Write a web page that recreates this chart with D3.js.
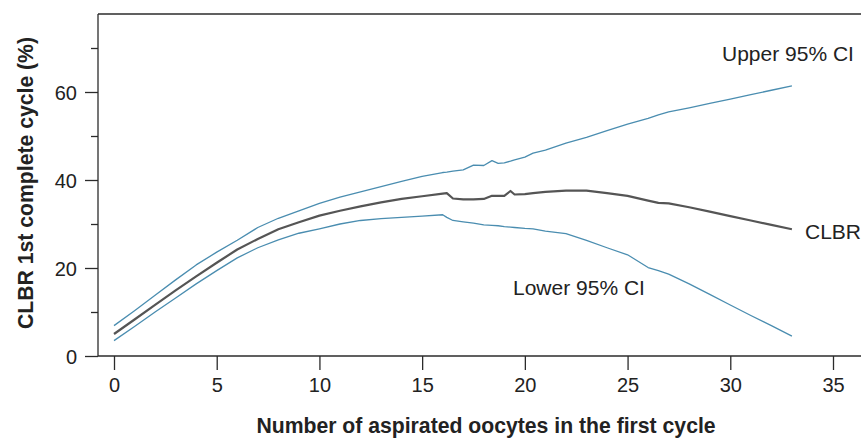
<!DOCTYPE html>
<html>
<head>
<meta charset="utf-8">
<script src="https://cdn.jsdelivr.net/npm/d3@7"></script>
<style>
  html, body { margin: 0; padding: 0; background: #fff; }
  svg { display: block; font-family: Arial, "Liberation Sans", sans-serif; }
</style>
</head>
<body>
<svg id="chart" width="861" height="438"></svg>
<script>
// ---- Data ----
const oocytes = [0, 1, 2, 3, 4, 5, 6, 7, 8, 9, 10, 11, 12, 13, 14, 15, 16, 16.2, 16.5, 17, 17.5, 18, 18.4, 18.7, 19, 19.3, 19.5, 20, 20.4, 21, 22, 23, 24, 25, 26, 26.5, 27, 28, 29, 30, 31, 32, 33];
const clbr = [5.0, 8.3, 11.6, 14.9, 18.1, 21.2, 24.2, 26.6, 28.8, 30.4, 31.9, 33.0, 34.0, 34.9, 35.7, 36.3, 36.9, 37.0, 35.8, 35.6, 35.6, 35.7, 36.4, 36.4, 36.4, 37.5, 36.7, 36.8, 37.0, 37.3, 37.6, 37.6, 37.0, 36.4, 35.3, 34.8, 34.7, 33.8, 32.8, 31.8, 30.8, 29.8, 28.8];
const upperCI = [6.9, 10.3, 13.8, 17.3, 20.7, 23.6, 26.3, 29.2, 31.3, 33.0, 34.7, 36.1, 37.3, 38.5, 39.7, 40.8, 41.7, 41.8, 42.0, 42.3, 43.4, 43.3, 44.4, 43.8, 43.9, 44.3, 44.6, 45.2, 46.1, 46.8, 48.4, 49.7, 51.2, 52.7, 54.0, 54.8, 55.5, 56.4, 57.4, 58.4, 59.4, 60.4, 61.4];
const lowerCI = [3.5, 6.7, 10.0, 13.2, 16.4, 19.4, 22.3, 24.6, 26.4, 27.9, 28.9, 30.0, 30.8, 31.2, 31.5, 31.8, 32.1, 31.5, 30.8, 30.5, 30.2, 29.8, 29.7, 29.6, 29.4, 29.3, 29.2, 29.0, 28.9, 28.4, 27.8, 26.3, 24.6, 23.0, 20.1, 19.4, 18.6, 16.4, 14.0, 11.6, 9.2, 6.9, 4.5];
const xTicks = [0, 5, 10, 15, 20, 25, 30, 35];
const yTicks = [0, 20, 40, 60];
const yMinorTicks = [10, 30, 50, 70];
const xTitle = "Number of aspirated oocytes in the first cycle";
const yTitle = "CLBR 1st complete cycle (%)";
const seriesLabels = ["Upper 95% CI", "CLBR", "Lower 95% CI"];

// ---- Layout ----
const W = 861, H = 438;
const frameLeft = 98, frameTop = 14, frameBottom = 356;
const svg = d3.select("#chart");
const x = d3.scaleLinear().domain([0, 35]).range([114, 833]);
const y = d3.scaleLinear().domain([0, 60]).range([356, 92]);

const axisColor = "#2b2b2b";
const textColor = "#222";

// Frame: left, top, bottom lines
svg.append("line").attr("x1", frameLeft).attr("x2", frameLeft).attr("y1", frameTop).attr("y2", frameBottom)
  .attr("stroke", axisColor).attr("stroke-width", 1.3);
svg.append("line").attr("x1", frameLeft).attr("x2", W).attr("y1", frameTop).attr("y2", frameTop)
  .attr("stroke", axisColor).attr("stroke-width", 1.3);
svg.append("line").attr("x1", frameLeft).attr("x2", W).attr("y1", frameBottom).attr("y2", frameBottom)
  .attr("stroke", axisColor).attr("stroke-width", 1.3);

// Y axis (major)
const yAxis = svg.append("g").attr("transform", `translate(${frameLeft},0)`)
  .call(d3.axisLeft(y).tickValues(yTicks).tickSize(13).tickPadding(8).tickSizeOuter(0));
yAxis.select(".domain").remove();
yAxis.selectAll(".tick line").attr("stroke", axisColor).attr("stroke-width", 1.3);
yAxis.selectAll(".tick text").attr("fill", textColor).style("font-size", "20px")
  .style("font-family", "Arial, 'Liberation Sans', sans-serif").attr("dy", "0.36em");

// Y axis (minor)
const yMinor = svg.append("g").attr("transform", `translate(${frameLeft},0)`)
  .call(d3.axisLeft(y).tickValues(yMinorTicks).tickSize(7).tickFormat("").tickSizeOuter(0));
yMinor.select(".domain").remove();
yMinor.selectAll(".tick line").attr("stroke", axisColor).attr("stroke-width", 1.3);

// X axis
const xAxis = svg.append("g").attr("transform", `translate(0,${frameBottom})`)
  .call(d3.axisBottom(x).tickValues(xTicks).tickSize(14).tickPadding(8).tickSizeOuter(0));
xAxis.select(".domain").remove();
xAxis.selectAll(".tick line").attr("stroke", axisColor).attr("stroke-width", 1.3);
xAxis.selectAll(".tick text").attr("fill", textColor).style("font-size", "20px")
  .style("font-family", "Arial, 'Liberation Sans', sans-serif");

// Axis titles
svg.append("text").attr("x", 486).attr("y", 433).attr("text-anchor", "middle")
  .attr("fill", textColor).style("font-size", "21.2px").style("font-weight", "bold").text(xTitle);
svg.append("text").attr("transform", "translate(33,183) rotate(-90)").attr("text-anchor", "middle")
  .attr("fill", textColor).style("font-size", "21.2px").style("font-weight", "bold").text(yTitle);

// Lines
const line = d3.line().x((d, i) => x(oocytes[i])).y(d => y(d)).curve(d3.curveLinear);
const ciColor = "#4a8db0";
svg.append("path").datum(upperCI).attr("d", line).attr("fill", "none")
  .attr("stroke", ciColor).attr("stroke-width", 1.3).attr("stroke-linejoin", "round");
svg.append("path").datum(lowerCI).attr("d", line).attr("fill", "none")
  .attr("stroke", ciColor).attr("stroke-width", 1.3).attr("stroke-linejoin", "round");
svg.append("path").datum(clbr).attr("d", line).attr("fill", "none")
  .attr("stroke", "#555").attr("stroke-width", 2.2).attr("stroke-linejoin", "round");

// Series labels
const labelStyle = sel => sel.attr("fill", textColor).style("font-size", "21px");
svg.append("text").attr("x", 722).attr("y", 61).call(labelStyle).text(seriesLabels[0]);
svg.append("text").attr("x", 805).attr("y", 239).call(labelStyle).text(seriesLabels[1]);
svg.append("text").attr("x", 513).attr("y", 295).call(labelStyle).text(seriesLabels[2]);
</script>
</body>
</html>
